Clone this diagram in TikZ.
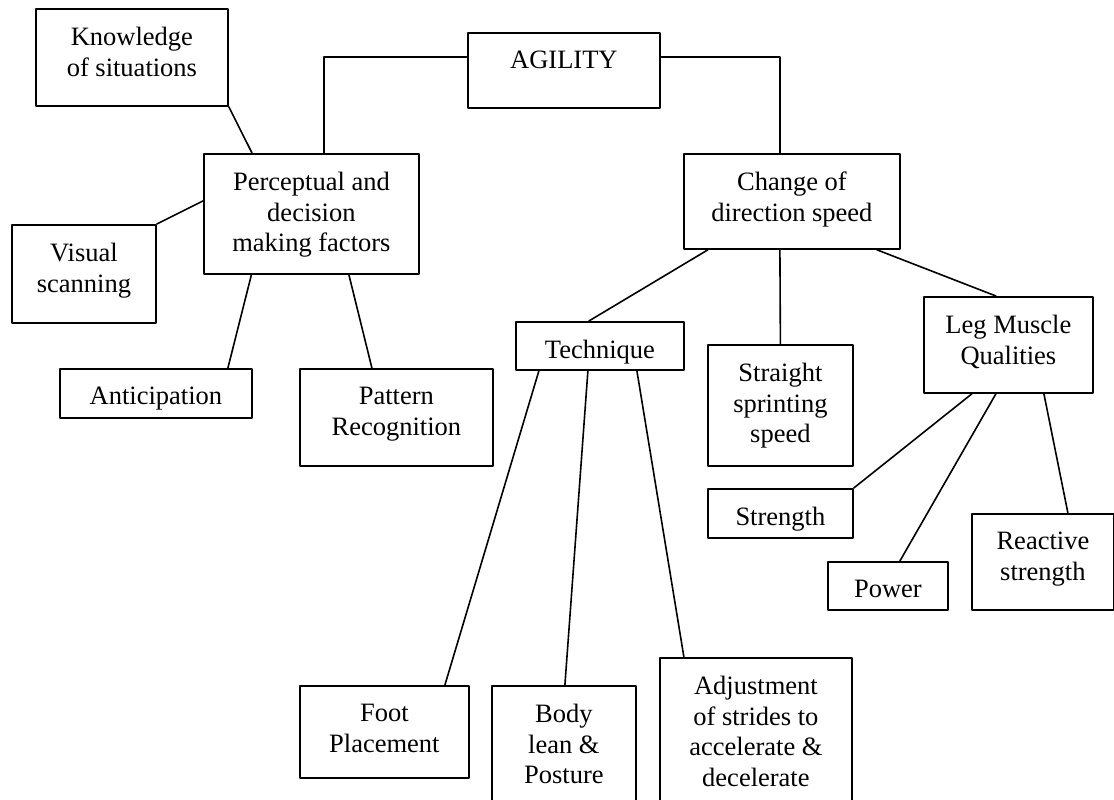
\documentclass[tikz,border=0pt]{standalone}
\usepackage{fontspec}
\setmainfont{Liberation Serif}
\tikzset{
  every picture/.style={line join=round, line cap=round},
  box/.style={draw, line width=1.8pt, inner sep=0pt, anchor=north west},
  txt/.style={font=\fontsize{26.5}{30.5}\selectfont, align=center, inner sep=0pt, anchor=north, yshift=-19pt},
  boxtext/.style={label={[txt]north:{#1}}},
  link/.style={line width=1.6pt},
}

\begin{document}
\begin{tikzpicture}[x=1pt,y=-1pt]
\useasboundingbox (0,0) rectangle (1114,800);
\clip (0,0) rectangle (1114,800);
% top and perceptual side
\node[box, minimum width=192pt, minimum height=75pt, boxtext=AGILITY] (agil) at (467,32) {};
\node[box, minimum width=192pt, minimum height=97pt, boxtext={Knowledge\\of situations}] (know) at (35,8) {};
\node[box, minimum width=215pt, minimum height=120pt, boxtext={Perceptual and\\decision\\making factors}] (perc) at (203,153) {};
\node[box, minimum width=144pt, minimum height=98pt, boxtext={Visual\\scanning}] (vis) at (11,224) {};
\node[box, minimum width=192pt, minimum height=49pt, boxtext=Anticipation] (antic) at (59,368) {};
\node[box, minimum width=193pt, minimum height=97pt, boxtext={Pattern\\Recognition}] (patt) at (299,368) {};
% change of direction side
\node[box, minimum width=216pt, minimum height=95pt, boxtext={Change of\\direction speed}] (chg) at (683,153) {};
\node[box, minimum width=168pt, minimum height=48pt, boxtext=Technique] (tech) at (515,321) {};
\node[box, minimum width=145pt, minimum height=121pt, boxtext={Straight\\sprinting\\speed}] (strt) at (707,344) {};
\node[box, minimum width=169pt, minimum height=96pt, boxtext={Leg Muscle\\Qualities}] (leg) at (923,296) {};
\node[box, minimum width=145pt, minimum height=49pt, boxtext=Strength] (stren) at (707,488) {};
\node[box, minimum width=120pt, minimum height=48pt, boxtext=Power] (pow) at (827,561) {};
\node[box, minimum width=142pt, minimum height=96pt, boxtext={Reactive\\strength}] (react) at (971,513) {};
\node[box, minimum width=169pt, minimum height=92pt, boxtext={Foot\\Placement}] (foot) at (299,685) {};
\node[box, minimum width=144pt, minimum height=130pt, boxtext={Body\\lean \&\\Posture}] (body) at (491,685) {};
\node[box, minimum width=192pt, minimum height=160pt, boxtext={Adjustment\\of strides to\\accelerate \&\\decelerate}] (adj) at (659,657) {};
% connectors
\draw[link] ([yshift=13.5pt]agil.west) -| ([xshift=12.5pt]perc.north);
\draw[link] ([yshift=13.5pt]agil.east) -| ([xshift=-12pt]chg.north);
\draw[link] (know.south east) -- ([xshift=49pt]perc.north west);
\draw[link] (vis.north east) -- ([yshift=13pt]perc.west);
\draw[link] ([xshift=-60pt]perc.south) -- ([xshift=72pt]antic.north);
\draw[link] ([xshift=37.5pt]perc.south) -- ([xshift=-24.5pt]patt.north);
\draw[link] ([xshift=-84pt]chg.south) -- ([xshift=-11pt]tech.north);
\draw[link] ([xshift=-12pt]chg.south) -- (strt.north);
\draw[link] ([xshift=85pt]chg.south) -- ([xshift=-12.5pt]leg.north);
\draw[link] ([xshift=-61pt]tech.south) -- ([xshift=60.5pt]foot.north);
\draw[link] ([xshift=-12pt]tech.south) -- ([xshift=1pt]body.north);
\draw[link] ([xshift=37pt]tech.south) -- ([xshift=-72pt]adj.north);
\draw[link] ([xshift=-36.5pt]leg.south) -- (stren.north east);
\draw[link] ([xshift=-12.5pt]leg.south) -- ([xshift=12pt]pow.north);
\draw[link] ([xshift=35.5pt]leg.south) -- ([xshift=25pt]react.north);
\end{tikzpicture}
\end{document}
